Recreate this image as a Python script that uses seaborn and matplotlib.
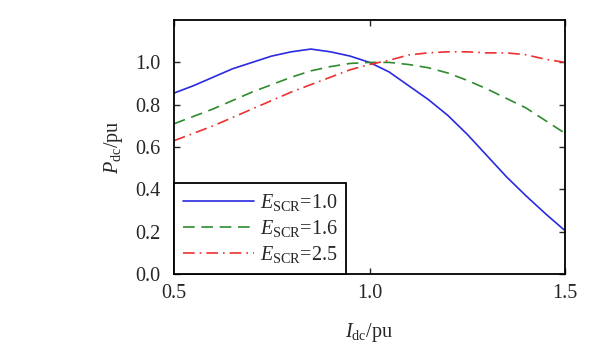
import numpy as np
import pandas as pd
import seaborn as sns
import matplotlib
matplotlib.use("Agg")
import matplotlib.pyplot as plt

# DC current (pu)
i_dc = [0.50, 0.55, 0.60, 0.65, 0.70, 0.75, 0.80, 0.85, 0.90, 0.95, 1.00,
        1.05, 1.10, 1.15, 1.20, 1.25, 1.30, 1.35, 1.40, 1.45, 1.50]

# DC power (pu) for each short-circuit ratio
p_scr_10 = [0.855, 0.89, 0.93, 0.97, 1.00, 1.03, 1.05, 1.063, 1.05, 1.03, 1.00,
            0.955, 0.89, 0.825, 0.75, 0.66, 0.56, 0.46, 0.37, 0.285, 0.205]
p_scr_16 = [0.71, 0.745, 0.78, 0.82, 0.86, 0.895, 0.93, 0.96, 0.98, 0.995, 1.00,
            1.00, 0.99, 0.975, 0.95, 0.915, 0.875, 0.83, 0.785, 0.725, 0.665]
p_scr_25 = [0.63, 0.665, 0.70, 0.74, 0.78, 0.82, 0.86, 0.895, 0.93, 0.965, 0.99,
            1.01, 1.035, 1.045, 1.05, 1.05, 1.045, 1.045, 1.036, 1.015, 1.00]

labels = [r"$E_{\mathrm{SCR}}$=1.0", r"$E_{\mathrm{SCR}}$=1.6", r"$E_{\mathrm{SCR}}$=2.5"]
colors = ["#2a2ae0", "#2e8b2e", "#ee3030"]
dashes = [(None, None), (7, 4), (7, 3, 1, 3)]

sns.set_style("ticks")
plt.rcParams["font.family"] = ["Liberation Serif", "DejaVu Serif"]
plt.rcParams["mathtext.fontset"] = "custom"
plt.rcParams["mathtext.rm"] = "Liberation Serif"
plt.rcParams["mathtext.it"] = "Liberation Serif:italic"

FS = 14.5

fig = plt.figure(figsize=(6.0, 3.46), dpi=100)
ax = fig.add_axes([0.29, 0.208, 0.6517, 0.734])

for vals, lab, c, d in zip([p_scr_10, p_scr_16, p_scr_25], labels, colors, dashes):
    df = pd.DataFrame({"I": i_dc, "P": vals})
    sns.lineplot(data=df, x="I", y="P", ax=ax, color=c, lw=1.2, label=lab)
    l = ax.get_lines()[-1]
    if d[0] is not None:
        l.set_dashes(d)

ax.set_xlim(0.5, 1.5)
ax.set_ylim(0.0, 1.2)
ax.set_xticks([0.5, 1.0, 1.5])
ax.set_yticks([0.0, 0.2, 0.4, 0.6, 0.8, 1.0])
ax.set_xticklabels(["0.5", "1.0", "1.5"])
ax.set_yticklabels(["0.0", "0.2", "0.4", "0.6", "0.8", "1.0"])
ax.tick_params(direction="in", top=True, right=True, labelsize=FS, length=4,
               width=1.0)
ax.tick_params(axis="y", pad=10)
ax.tick_params(axis="x", pad=7)
for s in ax.spines.values():
    s.set_linewidth(1.3)
    s.set_color("black")

ax.set_xlabel(r"$I_{\mathrm{dc}}$/pu", fontsize=FS, labelpad=13)
ax.set_ylabel(r"$P_{\mathrm{dc}}$/pu", fontsize=FS, labelpad=7)

leg = ax.legend(loc="lower left", borderaxespad=0, fancybox=False, framealpha=1,
                edgecolor="black", fontsize=FS, handlelength=3.5, handletextpad=0.3,
                labelspacing=0.25, borderpad=0.45)
leg.get_frame().set_linewidth(1.3)

fig.savefig("out.png", dpi=100)
